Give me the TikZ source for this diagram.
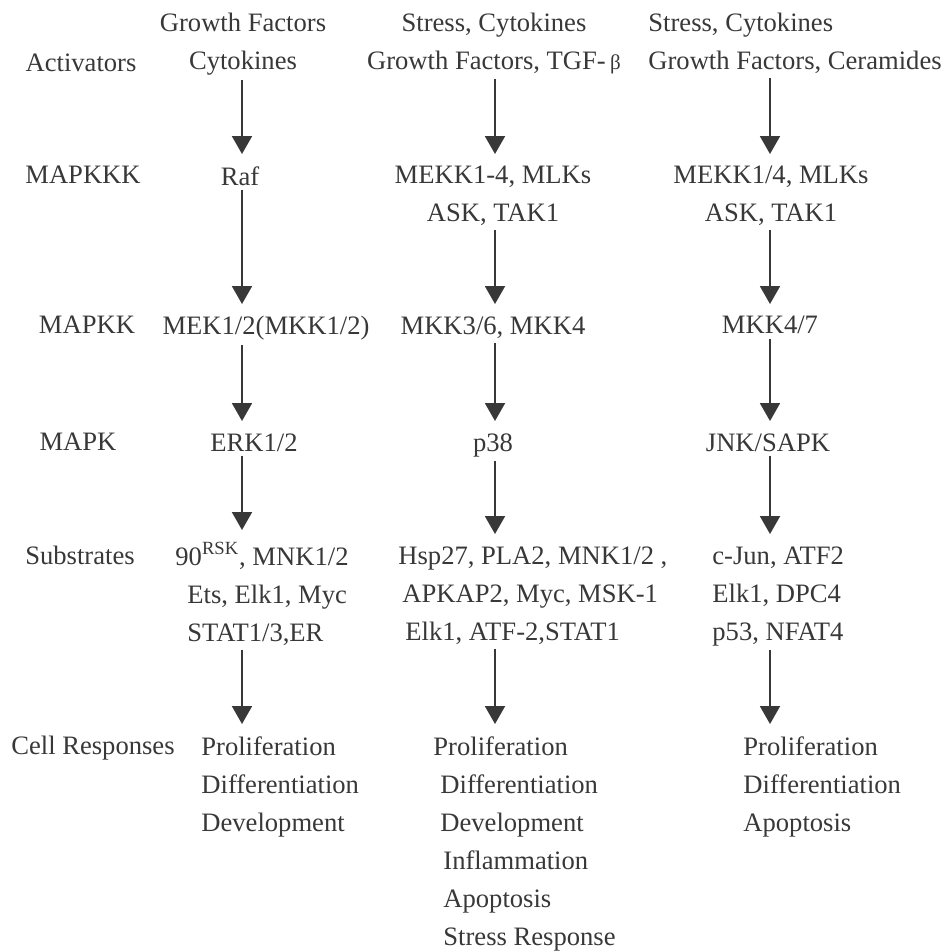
\documentclass[tikz,border=0pt]{standalone}
\usepackage{fontspec}
\setmainfont{Liberation Serif}
\usepackage{xcolor}
\usepackage{tikz}
\usetikzlibrary{arrows.meta}

\begin{document}
\begin{tikzpicture}[
      x=0.5pt, y=-0.5pt,
      font=\fontsize{13.3}{19}\selectfont,
      every node/.style={text=black!78, inner sep=0pt},
      tier/.style={anchor=north},
      hub/.style={anchor=north, align=center},
      list/.style={anchor=north west, align=left},
      flow/.style={->, draw=black!78, line width=1pt, shorten <=2pt, shorten >=6pt},
      >={Triangle[width=10pt,length=9pt]}]

    \useasboundingbox (0,0) rectangle (951,950);
    \coordinate (c1) at (242,0);
    \coordinate (c2) at (495,0);
    \coordinate (c3) at (770,0);

    % row labels
    \node[tier] (lact)  at (81,53)   {Activators};
    \node[tier] (lkkk)  at (83,166)  {MAPKKK};
    \node[tier] (lkk)   at (87,316)  {MAPKK};
    \node[tier] (lk)    at (78,433)  {MAPK};
    \node[tier] (lsub)  at (80,546)  {Substrates};
    \node[tier] (lresp) at (93,736)  {Cell Responses};

    % ERK branch
    \node[hub] (act1) at (243,13) {Growth Factors\\Cytokines};
    \node[hub] (raf)  at (240,166) {Raf};
    \node[hub] (mek)  at (266,316) {MEK1/2(MKK1/2)};
    \node[hub] (erk)  at (254,433) {ERK1/2};
    \node[list] (subs1) at (175,542)
      {90\textsuperscript{RSK}, MNK1/2\\
       \hspace*{6pt}Ets, Elk1, Myc\\
       \hspace*{6pt}STAT1/3,ER};
    \node[list] (resp1) at (201,736)
      {Proliferation\\Differentiation\\Development};
    \draw[flow] (act1.south -| c1) -- (raf.north -| c1);
    \draw[flow] (raf.south -| c1) -- (mek.north -| c1);
    \draw[flow] (mek.south -| c1) -- (erk.north -| c1);
    \draw[flow] (erk.south -| c1) -- (subs1.north -| c1);
    \draw[flow] (subs1.south -| c1) -- (resp1.north -| c1);

    % p38 branch
    \node[hub] (act2) at (494,13)
      {Stress, Cytokines\\Growth Factors, TGF-\,{\fontsize{10.5}{19}\selectfont β}};
    \node[hub] (mekk) at (493,166) {MEKK1-4, MLKs\\ASK, TAK1};
    \node[hub] (mkk36) at (493,316) {MKK3/6, MKK4};
    \node[hub] (p38)  at (493,433) {p38};
    \node[list] (subs2) at (398,546)
      {Hsp27, PLA2, MNK1/2 ,\\
       \hspace*{2pt}APKAP2, Myc, MSK-1\\
       \hspace*{3.5pt}Elk1, ATF-2,STAT1};
    \node[list] (resp2) at (433,736)
      {Proliferation\\
       \hspace*{3.5pt}Differentiation\\
       \hspace*{3.5pt}Development\\
       \hspace*{5pt}Inflammation\\
       \hspace*{5pt}Apoptosis\\
       \hspace*{5pt}Stress Response};
    \draw[flow] (act2.south -| c2) -- (mekk.north -| c2);
    \draw[flow] (mekk.south -| c2) -- (mkk36.north -| c2);
    \draw[flow] (mkk36.south -| c2) -- (p38.north -| c2);
    \draw[flow] (p38.south -| c2) -- (subs2.north -| c2);
    \draw[flow] (subs2.south -| c2) -- (resp2.north -| c2);

    % JNK branch
    \node[list] (act3) at (648,13)
      {Stress, Cytokines\\Growth Factors, Ceramides};
    \node[hub] (mekk14) at (771,166) {MEKK1/4, MLKs\\ASK, TAK1};
    \node[hub] (mkk47)  at (770,316) {MKK4/7};
    \node[hub] (jnk)    at (768,433) {JNK/SAPK};
    \node[list] (subs3) at (712,546)
      {c-Jun, ATF2\\Elk1, DPC4\\p53, NFAT4};
    \node[list] (resp3) at (743,736)
      {Proliferation\\Differentiation\\Apoptosis};
    \draw[flow] (act3.south -| c3) -- (mekk14.north -| c3);
    \draw[flow] (mekk14.south -| c3) -- (mkk47.north -| c3);
    \draw[flow] (mkk47.south -| c3) -- (jnk.north -| c3);
    \draw[flow] (jnk.south -| c3) -- (subs3.north -| c3);
    \draw[flow] (subs3.south -| c3) -- (resp3.north -| c3);
  \end{tikzpicture}
\end{document}
